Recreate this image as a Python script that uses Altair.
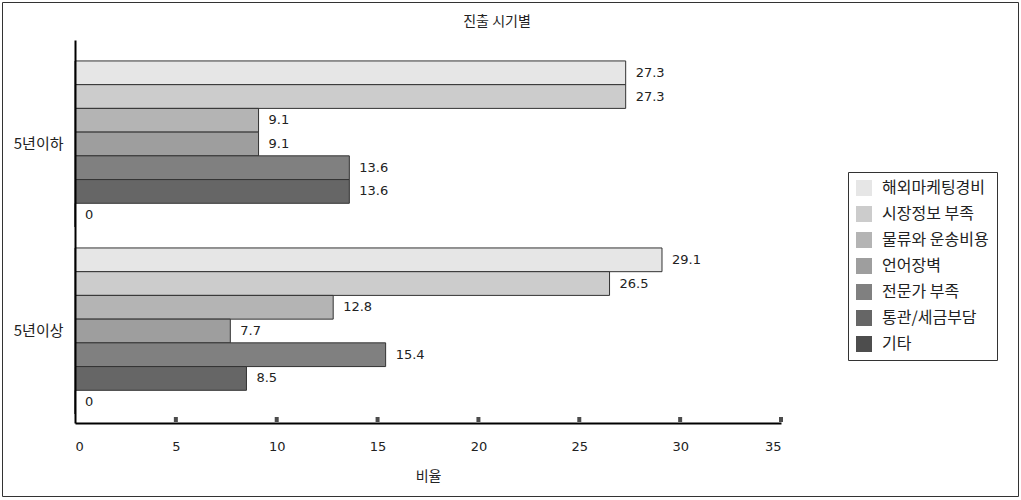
import altair as alt
import pandas as pd

groups = ["5년이하", "5년이상"]
series = ["해외마케팅경비", "시장정보 부족", "물류와 운송비용", "언어장벽", "전문가 부족", "통관/세금부담", "기타"]
vals_le5 = [27.3, 27.3, 9.1, 9.1, 13.6, 13.6, 0]
vals_ge5 = [29.1, 26.5, 12.8, 7.7, 15.4, 8.5, 0]
colors = ["#e6e6e6", "#cccccc", "#b4b4b4", "#9e9e9e", "#808080", "#666666", "#4d4d4d"]
x_ticks = [0, 5, 10, 15, 20, 25, 30, 35]
tick_marks = [5, 10, 15, 20, 25, 30, 35]
title_text = "진출 시기별"

rows = []
for g, vals in zip(groups, [vals_le5, vals_ge5]):
    for s, v in zip(series, vals):
        rows.append({"group": g, "series": s, "value": v,
                     "label": "0" if v == 0 else f"{v:.1f}"})
df = pd.DataFrame(rows)

FONT = "Noto Sans CJK KR"
NUMFONT = "DejaVu Sans"

xscale = alt.Scale(domain=[0, 35], nice=False)

base = alt.Chart(df).encode(
    y=alt.Y("group:N", sort=groups,
            scale=alt.Scale(paddingInner=0.112, paddingOuter=0.08, align=0.7),
            axis=alt.Axis(title=None, ticks=False, domainColor="#000", domainWidth=2,
                          zindex=1,
                          labelFontSize=15, labelColor="#222", labelPadding=12, labelFont=FONT)),
    yOffset=alt.YOffset("series:N", sort=series,
                        scale=alt.Scale(paddingInner=0, paddingOuter=0)),
)

bars = base.mark_bar(stroke="#333", strokeWidth=1).encode(
    x=alt.X("value:Q", scale=xscale,
            axis=alt.Axis(values=x_ticks, title="비율", grid=False, format="d",
                          domainColor="#000", domainWidth=2, ticks=False, zindex=1,
                          labelFontSize=13, labelColor="#222", labelPadding=17, labelFont=NUMFONT,
                          titleFontSize=14, titleFontWeight="normal", titleColor="#222",
                          titlePadding=16, titleFont=FONT)),
    color=alt.Color("series:N", sort=series,
                    scale=alt.Scale(domain=series, range=colors),
                    legend=alt.Legend(title=None, orient="none", legendX=773, legendY=132,
                                      symbolType="square", symbolSize=256,
                                      symbolStrokeWidth=0,
                                      labelFontSize=16, labelColor="#222", labelFont=FONT,
                                      rowPadding=10, padding=8,
                                      strokeColor="#333", fillColor="white",
                                      labelLimit=220, labelOffset=10)),
)

labels = base.mark_text(align="left", baseline="middle", dx=10, fontSize=13,
                        color="#222", font=NUMFONT).encode(
    x=alt.X("value:Q", scale=xscale),
    text="label:N",
)

ticks = alt.Chart(pd.DataFrame({"t": tick_marks})).mark_tick(
    color="#000", thickness=4, size=5, orient="vertical"
).encode(
    x=alt.X("t:Q", scale=xscale),
    y=alt.value(379.5),
)

title = alt.Chart(pd.DataFrame({"t": [title_text]})).mark_text(
    fontSize=14, color="#222", font=FONT, baseline="middle", align="center"
).encode(text="t:N", x=alt.value(422), y=alt.value(-18))

border = alt.Chart(pd.DataFrame({"a": [0]})).mark_rect(
    fill=None, stroke="#333", strokeWidth=1
).encode(
    x=alt.value(-72.5), x2=alt.value(943.5), y=alt.value(-37.5), y2=alt.value(456.5)
)

chart = alt.layer(bars, labels, ticks, title, border).properties(
    width=706, height=383,
    background="white",
    autosize=alt.AutoSizeParams(type="none"),
    padding={"left": 75, "top": 40, "right": 240, "bottom": 77},
).configure_view(stroke=None)

chart.save("out.html", embed_options={"renderer": "svg", "actions": False})
